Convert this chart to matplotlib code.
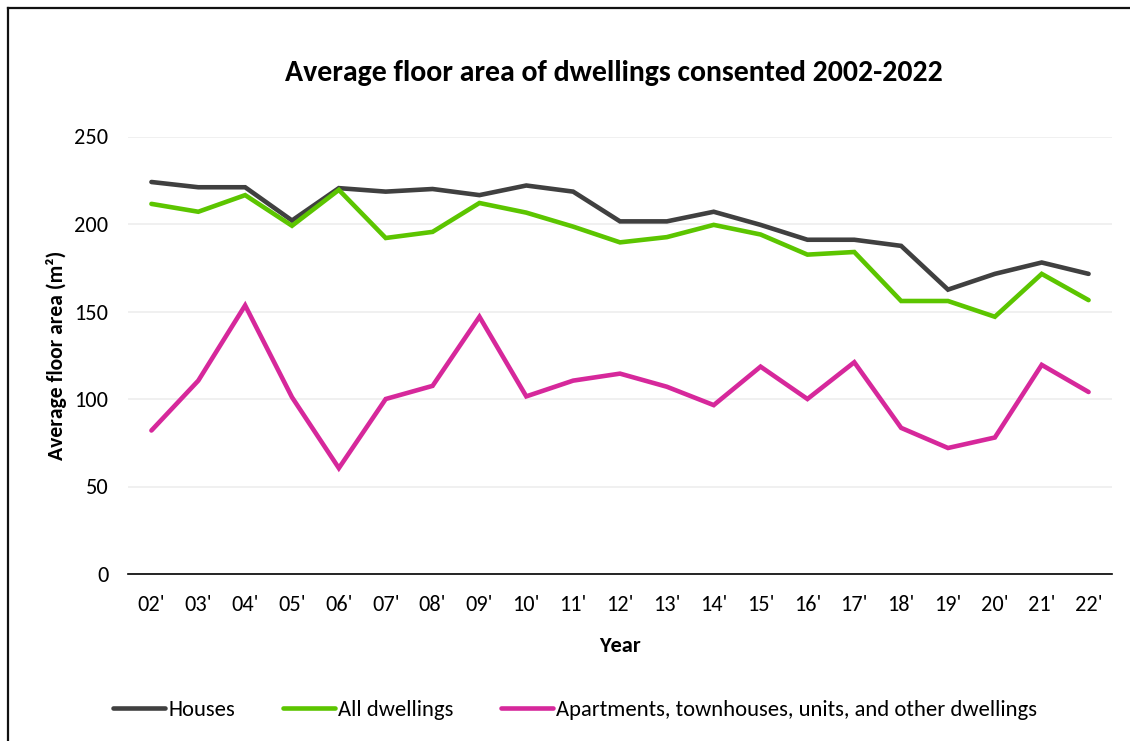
import matplotlib
matplotlib.use("Agg")
import matplotlib.pyplot as plt
from matplotlib.lines import Line2D

plt.rcParams['font.family'] = ['Carlito', 'Open Sans', 'DejaVu Sans']

years = ["02'", "03'", "04'", "05'", "06'", "07'", "08'", "09'", "10'", "11'", "12'",
         "13'", "14'", "15'", "16'", "17'", "18'", "19'", "20'", "21'", "22'"]
houses = [224, 221, 221, 202, 220.5, 218.5, 220, 216.5, 222, 218.5, 201.5,
          201.5, 207, 199.5, 191, 191, 187.5, 162.5, 171.5, 178, 171.5]
all_dwellings = [211.5, 207, 216.5, 199, 219.5, 192, 195.5, 212, 206.5, 198.5, 189.5,
                 192.5, 199.5, 194, 182.5, 184, 156, 156, 147, 171.5, 156.5]
apartments = [82, 110.5, 153.5, 101, 60.5, 100, 107.5, 147, 101.5, 110.5, 114.5,
              107, 96.5, 118.5, 100, 121, 83.5, 72, 78, 119.5, 104]

series = [("Houses", houses, "#404040"),
          ("All dwellings", all_dwellings, "#5CC500"),
          ("Apartments, townhouses, units, and other dwellings", apartments, "#D6289B")]

fig = plt.figure(figsize=(11.3, 7.41), dpi=100)
ax = fig.add_axes([128/1130, 1-574/741, (1112-128)/1130, (574-136.5)/741])

x = list(range(len(years)))
for name, vals, col in series:
    ax.plot(x, vals, color=col, lw=3.3, label=name, solid_capstyle='round',
            solid_joinstyle='miter')

ax.set_xlim(-0.5, len(years) - 0.5)
ax.set_ylim(0, 250)
ax.set_yticks([0, 50, 100, 150, 200, 250])
ax.set_xticks(x)
ax.set_xticklabels(years)
ax.grid(axis='y', color='#EEEEEE', lw=1.2)
ax.set_axisbelow(True)
for s in ['left', 'right', 'top']:
    ax.spines[s].set_visible(False)
ax.spines['bottom'].set_color('#000000')
ax.spines['bottom'].set_linewidth(1.2)
ax.tick_params(axis='both', length=0, labelsize=16, colors='#000000')
ax.tick_params(axis='x', pad=15)
ax.tick_params(axis='y', pad=14)

ax.set_xlabel("Year", fontsize=16, fontweight='bold', labelpad=15)
ax.set_ylabel("Average floor area (m²)", fontsize=15.6, fontweight='bold', labelpad=5)
fig.text(0.5433, 1-73/741, "Average floor area of dwellings consented 2002-2022",
         ha='center', va='center', fontsize=21.5, fontweight='bold')

fig.legend(loc='center', bbox_to_anchor=(0.509, 1-710/741), ncol=3, frameon=False,
           fontsize=16.3, handlelength=2.3, handletextpad=0.15, columnspacing=2.1)

fig.add_artist(Line2D([8/1130, 1], [1-8/741, 1-8/741], transform=fig.transFigure,
                      color='#111111', lw=1.6))
fig.add_artist(Line2D([8/1130, 8/1130], [0, 1-8/741], transform=fig.transFigure,
                      color='#111111', lw=1.6))

fig.savefig("out.png", dpi=100, facecolor='white')
